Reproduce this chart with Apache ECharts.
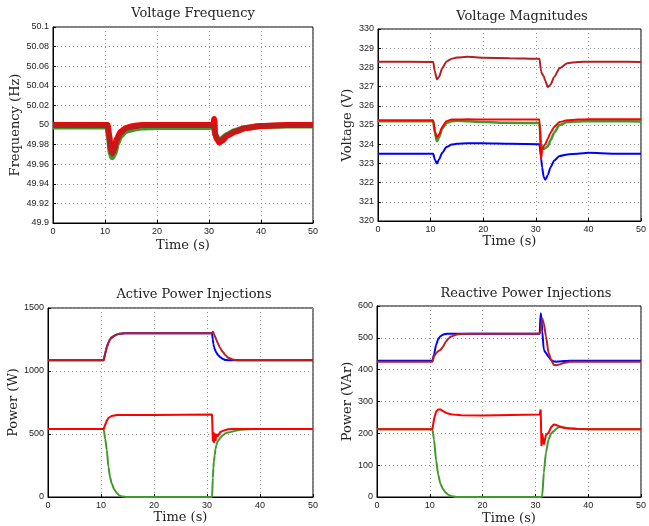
<!DOCTYPE html>
<html><head><meta charset="utf-8">
<script src="https://cdn.jsdelivr.net/npm/echarts@6/dist/echarts.min.js"></script>
<style>html,body{margin:0;padding:0;background:#fff}#c{width:649px;height:526px}</style>
</head><body><div id="c"></div>
<script>
// ---- Voltage Frequency ----
const tF = [0, 10.5, 10.8, 11.1, 11.4, 11.8, 12.3, 13, 14, 15.5, 17, 20, 30.9, 31.0, 31.2, 31.6, 32, 32.5, 33.5, 35, 37, 40, 45, 50];
const fGreen = [49.9985, 49.9985, 49.986, 49.971, 49.967, 49.971, 49.981, 49.989, 49.994, 49.996, 49.9975, 49.998, 49.998, 49.996, 49.99, 49.986, 49.984, 49.986, 49.99, 49.994, 49.997, 49.999, 49.9995, 49.9995];
const fRed = [50, 50, 49.99, 49.976, 49.972, 49.976, 49.986, 49.993, 49.997, 49.999, 50, 50, 50, 50.006, 49.99, 49.985, 49.982, 49.984, 49.989, 49.993, 49.997, 49.999, 50, 50];
const fDarkRed = [50, 50, 49.988, 49.974, 49.97, 49.974, 49.984, 49.991, 49.996, 49.998, 49.999, 50, 50, 49.996, 49.99, 49.987, 49.984, 49.986, 49.99, 49.994, 49.997, 49.999, 50, 50];

// ---- Voltage Magnitudes ----
const tV = [0, 10.5, 10.8, 11.2, 11.6, 12.2, 13, 14, 15, 17, 20, 25, 30.7, 31.0, 31.2, 31.5, 31.8, 32.3, 32.8, 33.5, 34.5, 36, 38, 40, 45, 50];
const vDarkRed = [328.3, 328.28, 327.8, 327.38, 327.5, 327.95, 328.3, 328.45, 328.52, 328.55, 328.5, 328.48, 328.45, 327.8, 327.65, 327.55, 327.3, 326.97, 327.1, 327.5, 327.95, 328.22, 328.28, 328.3, 328.3, 328.28];
const vRed = [325.25, 325.25, 324.7, 324.35, 324.5, 324.9, 325.2, 325.28, 325.28, 325.3, 325.28, 325.28, 325.28, 323.2, 323.7, 323.9, 324.0, 324.3, 324.6, 324.9, 325.15, 325.25, 325.28, 325.3, 325.3, 325.3];
const vGreen = [325.2, 325.2, 324.6, 324.15, 324.35, 324.8, 325.1, 325.2, 325.22, 325.2, 325.15, 325.12, 325.1, 324.0, 323.8, 323.75, 323.8, 323.9, 324.2, 324.6, 325.0, 325.15, 325.18, 325.2, 325.2, 325.18];
const vBlue = [323.5, 323.5, 323.2, 323.0, 323.2, 323.55, 323.85, 323.98, 324.02, 324.05, 324.05, 324.02, 324.0, 323.3, 322.8, 322.3, 322.15, 322.4, 322.8, 323.15, 323.38, 323.47, 323.5, 323.55, 323.5, 323.5];

// ---- Active Power Injections ----
const tP = [0, 10.5, 10.8, 11.1, 11.4, 11.7, 12, 12.5, 13, 13.5, 14, 15, 16, 20, 30.95, 31.1, 31.2, 31.3, 31.45, 31.6, 31.8, 32, 32.5, 33, 33.5, 34, 35, 36, 38, 40, 45, 50];
const pBlue = [1085, 1085, 1140, 1190, 1225, 1250, 1265, 1280, 1290, 1295, 1298, 1300, 1300, 1300, 1300, 1250, 1215, 1195, 1175, 1160, 1145, 1130, 1110, 1095, 1088, 1085, 1085, 1085, 1085, 1085, 1085, 1085];
const pDarkRed = [1085, 1085, 1140, 1190, 1225, 1250, 1265, 1280, 1290, 1295, 1298, 1300, 1300, 1300, 1300, 1312, 1305, 1295, 1280, 1265, 1245, 1225, 1180, 1150, 1125, 1105, 1090, 1085, 1085, 1085, 1085, 1085];
const pRed = [540, 540, 575, 606, 627, 638, 643, 647, 650, 650, 650, 650, 650, 650, 655, 440, 515, 430, 505, 445, 500, 480, 515, 525, 532, 537, 540, 540, 540, 540, 540, 540];
const pGreen = [540, 540, 460, 373, 240, 160, 109, 60, 29, 12, 3, 0, 0, 0, 0, 150, 230, 280, 330, 380, 415, 440, 468, 490, 505, 512, 522, 532, 538, 540, 540, 540];

// ---- Reactive Power Injections ----
const tQ = [0, 10.5, 10.8, 11.2, 11.6, 12, 12.5, 13, 13.5, 14, 15, 16, 20, 30.8, 31.0, 31.15, 31.3, 31.6, 32, 32.5, 33, 33.5, 34, 34.5, 35.5, 36.5, 38, 40, 45, 50];
const qBlue = [428, 428, 448, 478, 496, 505, 510, 512, 513, 513, 513, 513, 513, 513, 577, 560, 520, 462, 452, 440, 430, 426, 425, 426, 427, 428, 428, 428, 428, 428];
const qDarkRed = [425, 425, 442, 452, 458, 462, 472, 487, 497, 504, 510, 512, 513, 513, 520, 545, 561, 545, 505, 452, 430, 415, 414, 416, 422, 425, 425, 425, 425, 425];
const qRed = [213, 213, 245, 268, 275, 275, 270, 265, 262, 260, 258, 257, 256, 259, 275, 160, 200, 165, 195, 202, 220, 228, 226, 222, 217, 215, 214, 213, 213, 213];
const qGreen = [213, 213, 180, 115, 70, 42, 25, 14, 7, 3, 0, 0, 0, 0, 0, 0, 5, 77, 140, 181, 200, 207, 215, 220, 218, 216, 214, 213, 213, 213];

// tick settings
const xTicks = {min: 0, max: 50, interval: 10};
const yF = {min: 49.9, max: 50.1, interval: 0.02};
const yV = {min: 320, max: 330, interval: 1};
const yP = {min: 0, max: 1500, interval: 500};
const yQ = {min: 0, max: 600, interval: 100};

const titles = ['Voltage Frequency', 'Voltage Magnitudes', 'Active Power Injections', 'Reactive Power Injections'];
const yNames = ['Frequency (Hz)', 'Voltage (V)', 'Power (W)', 'Power (VAr)'];
const xName = 'Time (s)';

const C = {blue: '#0000ff', red: '#ff0000', green: '#3f9a2c', darkred: '#b51f1f'};
const serif = 'DejaVu Serif';
const sans = 'Liberation Sans';

const grids = [
  {left: 53, top: 27, width: 260, height: 196},
  {left: 378, top: 29, width: 270, height: 192},
  {left: 48, top: 308, width: 265, height: 189},
  {left: 377, top: 306, width: 271, height: 192}
].map(g => Object.assign(g, {show: true, borderColor: '#000', borderWidth: 1, backgroundColor: '#fff'}));

const titlePos = [[193, 7], [522, 10], [194, 288], [526, 287]];
const yNameGap = [30, 23.5, 26.5, 21.5];
const xNameGap = [16, 14, 14, 15];
const yRanges = [yF, yV, yP, yQ];

function fmtY(i) {
  return v => {
    if (i === 0) return String(+v.toFixed(2));
    return String(Math.round(v));
  };
}

const xAxes = grids.map((g, i) => Object.assign({
  type: 'value', gridIndex: i, name: xName, nameLocation: 'middle', nameGap: xNameGap[i],
  nameTextStyle: {fontFamily: serif, fontSize: 13, color: '#222'},
  axisLine: {show: true, onZero: false, lineStyle: {color: '#000', width: 1}},
  axisTick: {show: true, inside: true, length: 3, lineStyle: {color: '#000'}},
  axisLabel: {fontFamily: sans, fontSize: 9, color: '#222', margin: 4},
  splitLine: {show: true, lineStyle: {color: '#999', type: [1, 3], width: 1}}
}, xTicks));

const yAxes = grids.map((g, i) => Object.assign({
  type: 'value', gridIndex: i, name: yNames[i], nameLocation: 'middle', nameGap: yNameGap[i], nameRotate: 90,
  nameTextStyle: {fontFamily: serif, fontSize: 13, color: '#222'},
  axisLine: {show: true, onZero: false, lineStyle: {color: '#000', width: 1}},
  axisTick: {show: true, inside: true, length: 3, lineStyle: {color: '#000'}},
  axisLabel: {fontFamily: sans, fontSize: 9, color: '#222', margin: 4, formatter: fmtY(i)},
  splitLine: {show: true, lineStyle: {color: '#999', type: [1, 3], width: 1}}
}, yRanges[i]));

function line(idx, t, vals, color, width, z, smooth) {
  return {
    type: 'line', xAxisIndex: idx, yAxisIndex: idx, symbol: 'none', z: z || 2,
    smooth: smooth === undefined ? 0.2 : smooth, smoothMonotone: 'x',
    data: t.map((x, k) => [x, vals[k]]),
    lineStyle: {color: color, width: width}, itemStyle: {color: color},
    animation: false
  };
}

const series = [
  line(0, tF, fGreen, C.green, 6, 2),
  line(0, tF, fRed, C.red, 6, 3),
  line(0, tF, fDarkRed, C.darkred, 4, 4),

  line(1, tV, vDarkRed, C.darkred, 2),
  line(1, tV, vGreen, C.green, 2.5, 2),
  line(1, tV, vRed, C.red, 2, 3),
  line(1, tV, vBlue, C.blue, 2),

  line(2, tP, pBlue, C.blue, 2, 2),
  line(2, tP, pDarkRed, C.darkred, 2, 3),
  line(2, tP, pGreen, C.green, 2, 2),
  line(2, tP, pRed, C.red, 2, 3, false),

  line(3, tQ, qBlue, C.blue, 2, 2),
  line(3, tQ, qDarkRed, C.darkred, 2, 3),
  line(3, tQ, qGreen, C.green, 2, 2),
  line(3, tQ, qRed, C.red, 2, 3, false)
];

const chart = echarts.init(document.getElementById('c'), null, {renderer: 'canvas'});
chart.setOption({
  animation: false,
  backgroundColor: '#fff',
  title: titles.map((t, i) => ({
    text: t, left: titlePos[i][0], top: titlePos[i][1], textAlign: 'center', padding: 0,
    textStyle: {fontFamily: serif, fontSize: 13, fontWeight: 'normal', color: '#222'}
  })),
  grid: grids,
  xAxis: xAxes,
  yAxis: yAxes,
  series: series
});
</script>
</body></html>
